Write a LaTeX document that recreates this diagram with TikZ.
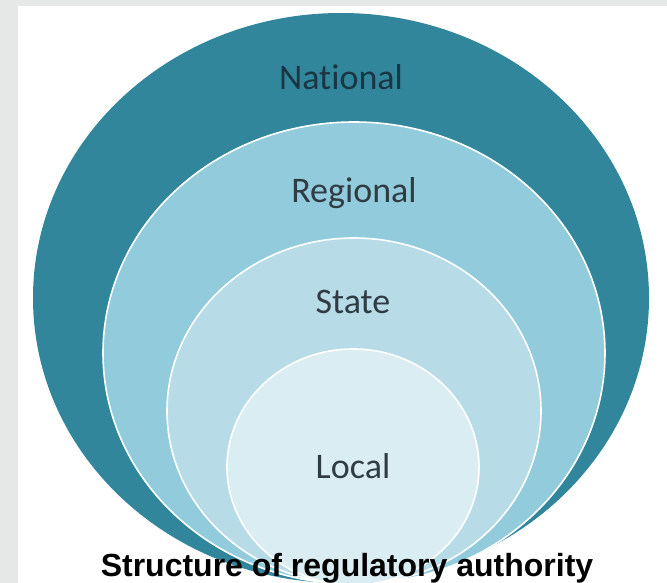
\documentclass[tikz,border=0pt]{standalone}
\usepackage{fontspec}
\setmainfont[Ligatures=NoCommon]{Carlito}
\newfontfamily\capfont{Liberation Sans}
\usetikzlibrary{shapes.geometric}
\definecolor{bgGrey}{HTML}{E6E8E8}
\definecolor{natCol}{HTML}{31869B}
\definecolor{regCol}{HTML}{92CBDC}
\definecolor{staCol}{HTML}{B7DCE7}
\definecolor{locCol}{HTML}{DAEDF3}
\definecolor{txtDark}{HTML}{1A3644}
\definecolor{txtGrey}{HTML}{303C44}
\tikzset{
  ring/.style={ellipse, draw=white, line width=1.6pt, inner sep=0pt, outer sep=0pt},
  lbl/.style={font=\fontsize{36}{40}\selectfont, text=txtGrey, inner sep=0pt, anchor=base},
  caption/.style={font=\capfont\bfseries\fontsize{32}{36}\selectfont, text=black, inner sep=0pt}
}
\begin{document}
\begin{tikzpicture}[x=1pt,y=-1pt]
\useasboundingbox (0,0) rectangle (667,583);
\fill[bgGrey] (0,0) rectangle (667,583);
\fill[white] (18,6) rectangle (667,583);
\node[ring, fill=natCol, draw=none, minimum width=616pt, minimum height=570pt] (national) at (341,298) {};
\node[ring, fill=regCol, minimum width=502pt, minimum height=462pt] (regional) at (354,353) {};
\node[ring, fill=staCol, minimum width=374pt, minimum height=346pt] (state) at (354,411) {};
\node[ring, fill=locCol, minimum width=252pt, minimum height=236pt] (local) at (353,467) {};
\node[lbl, text=txtDark] (tNational) at (341,90) {National};
\node[lbl] (tRegional) at (354,203) {Regional};
\node[lbl] (tState) at (353,313) {State};
\node[lbl] (tLocal) at (353,478) {Local};
\node[caption, anchor=base] (cap) at (347,576) {Structure of regulatory authority};
\end{tikzpicture}
\end{document}
